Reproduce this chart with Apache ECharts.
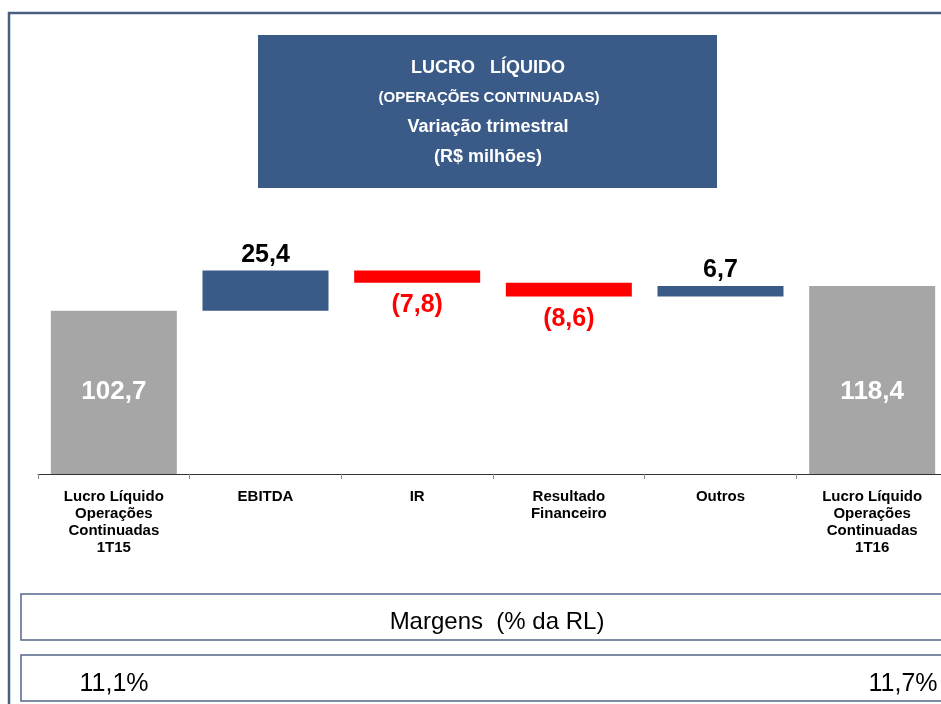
<!DOCTYPE html>
<html lang="pt-BR">
<head>
    <meta charset="UTF-8">
    <title>Lucro Líquido - Variação trimestral</title>
    <script src="https://cdn.jsdelivr.net/npm/echarts/dist/echarts.min.js"></script>
    <style>
        html, body { margin: 0; padding: 0; background: #fff; overflow: hidden; }
        #main { width: 960px; height: 704px; }
    </style>
</head>
<body>
    <div id="main"></div>
    <script>
        // dados (R$ milhões)
        var categorias = [
            'Lucro Líquido\nOperações\nContinuadas\n1T15',
            'EBITDA',
            'IR',
            'Resultado\nFinanceiro',
            'Outros',
            'Lucro Líquido\nOperações\nContinuadas\n1T16'
        ];
        var totais = [102.7, null, null, null, null, 118.4];
        var variacoes = [null, 25.4, -7.8, -8.6, 6.7, null];
        var margens = ['11,1%', '11,7%'];

        var fonte = '"Liberation Sans", Arial, sans-serif';
        var azul = '#3A5A88';

        // base invisível do waterfall
        var base = [], positivos = [], negativos = [];
        var acumulado = 0;
        for (var i = 0; i < categorias.length; i++) {
            if (totais[i] != null) {
                acumulado = totais[i];
                base.push(0);
                positivos.push('-');
                negativos.push('-');
            } else {
                var v = variacoes[i];
                if (v >= 0) {
                    base.push(acumulado);
                    positivos.push(v);
                    negativos.push('-');
                } else {
                    base.push(acumulado + v);
                    positivos.push('-');
                    negativos.push(-v);
                }
                acumulado += v;
            }
        }

        function fmt(n) {
            return n.toFixed(1).replace('.', ',');
        }

        var myChart = echarts.init(document.getElementById('main'));

        var option = {
            animation: false,
            backgroundColor: '#fff',
            grid: { left: 38, top: 188, width: 910, height: 286 },
            xAxis: {
                type: 'category',
                data: categorias,
                axisLine: { lineStyle: { color: '#333', width: 1 } },
                axisTick: { show: true, length: 5, lineStyle: { color: '#888' } },
                axisLabel: {
                    interval: 0,
                    margin: 14,
                    color: '#000',
                    fontWeight: 'bold',
                    fontSize: 15,
                    lineHeight: 17,
                    fontFamily: fonte
                }
            },
            yAxis: {
                type: 'value',
                min: 0,
                max: 180,
                show: false
            },
            series: [
                {
                    type: 'bar',
                    stack: 'w',
                    data: base,
                    barWidth: 126,
                    itemStyle: { color: 'transparent' },
                    silent: true
                },
                {
                    type: 'bar',
                    stack: 'w',
                    data: totais.map(function (v) { return v == null ? '-' : v; }),
                    itemStyle: { color: '#A6A6A6' },
                    label: {
                        show: true,
                        position: ['50%', '100%'],
                        offset: [0, -82],
                        align: 'center',
                        verticalAlign: 'middle',
                        color: '#fff',
                        fontWeight: 'bold',
                        fontSize: 26,
                        fontFamily: fonte,
                        formatter: function (p) { return fmt(p.value); }
                    }
                },
                {
                    type: 'bar',
                    stack: 'w',
                    data: positivos,
                    itemStyle: { color: azul },
                    label: {
                        show: true,
                        position: 'top',
                        distance: 3,
                        color: '#000',
                        fontWeight: 'bold',
                        fontSize: 25,
                        fontFamily: fonte,
                        formatter: function (p) { return fmt(p.value); }
                    }
                },
                {
                    type: 'bar',
                    stack: 'w',
                    data: negativos,
                    itemStyle: { color: '#FF0000' },
                    label: {
                        show: true,
                        position: 'bottom',
                        distance: 10,
                        color: '#FF0000',
                        fontWeight: 'bold',
                        fontSize: 25,
                        fontFamily: fonte,
                        formatter: function (p) { return '(' + fmt(p.value) + ')'; }
                    }
                }
            ],
            graphic: [
                // moldura
                {
                    type: 'polyline',
                    shape: { points: [[9, 704], [9, 13], [960, 13]] },
                    style: { stroke: '#4A5F80', lineWidth: 2.5, fill: null }
                },
                // caixa do título
                {
                    type: 'rect',
                    shape: { x: 258, y: 35, width: 459, height: 153 },
                    style: { fill: azul }
                },
                {
                    type: 'text', x: 488, y: 68,
                    style: { text: 'LUCRO   LÍQUIDO', fill: '#fff', font: 'bold 18px ' + fonte, textAlign: 'center', textVerticalAlign: 'middle' }
                },
                {
                    type: 'text', x: 489, y: 98,
                    style: { text: '(OPERAÇÕES CONTINUADAS)', fill: '#fff', font: 'bold 15px ' + fonte, textAlign: 'center', textVerticalAlign: 'middle' }
                },
                {
                    type: 'text', x: 488, y: 127,
                    style: { text: 'Variação trimestral', fill: '#fff', font: 'bold 18px ' + fonte, textAlign: 'center', textVerticalAlign: 'middle' }
                },
                {
                    type: 'text', x: 488, y: 157,
                    style: { text: '(R$ milhões)', fill: '#fff', font: 'bold 18px ' + fonte, textAlign: 'center', textVerticalAlign: 'middle' }
                },
                // caixas de margens
                {
                    type: 'rect',
                    shape: { x: 21, y: 594, width: 935, height: 46 },
                    style: { fill: '#fff', stroke: '#56678A', lineWidth: 1.5 }
                },
                {
                    type: 'text', x: 497, y: 622,
                    style: { text: 'Margens  (% da RL)', fill: '#000', font: '24px ' + fonte, textAlign: 'center', textVerticalAlign: 'middle' }
                },
                {
                    type: 'rect',
                    shape: { x: 21, y: 655, width: 935, height: 46 },
                    style: { fill: '#fff', stroke: '#56678A', lineWidth: 1.5 }
                },
                {
                    type: 'text', x: 114, y: 684,
                    style: { text: margens[0], fill: '#000', font: '25px ' + fonte, textAlign: 'center', textVerticalAlign: 'middle' }
                },
                {
                    type: 'text', x: 903, y: 684,
                    style: { text: margens[1], fill: '#000', font: '25px ' + fonte, textAlign: 'center', textVerticalAlign: 'middle' }
                }
            ]
        };

        myChart.setOption(option);
    </script>
</body>
</html>
